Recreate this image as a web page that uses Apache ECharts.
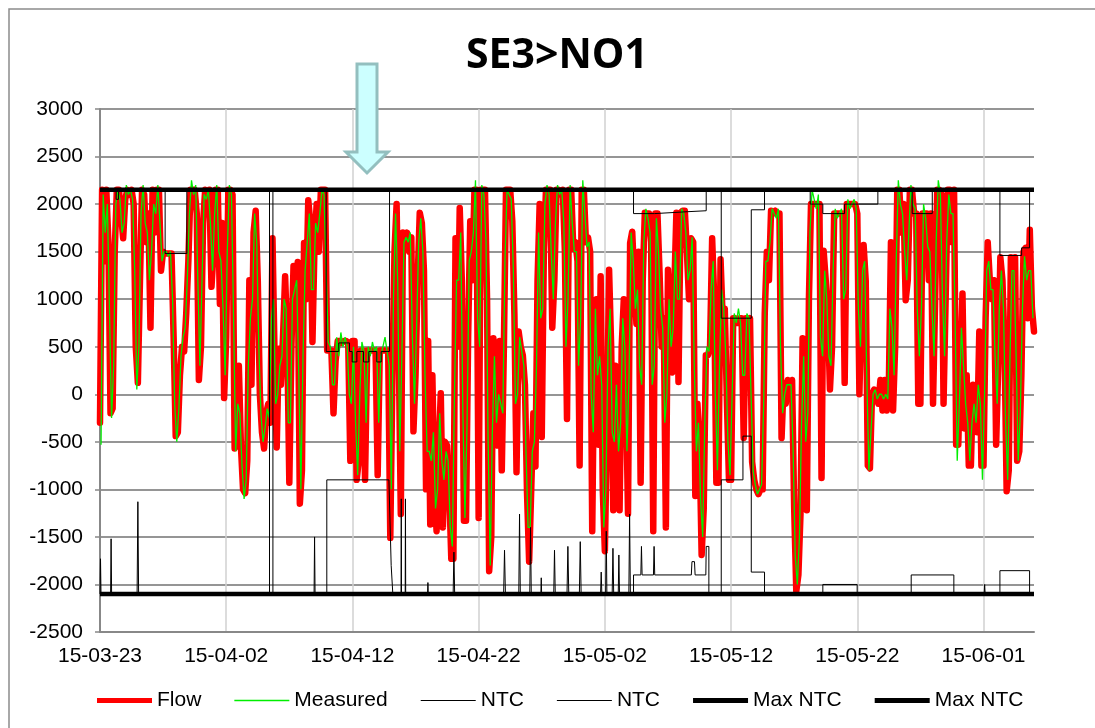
<!DOCTYPE html>
<html>
<head>
<meta charset="utf-8">
<script src="https://cdn.jsdelivr.net/npm/echarts@6/dist/echarts.min.js"></script>
<style>
  html, body { margin: 0; background: #fff; }
  #chart { width: 1095px; height: 728px; }
</style>
</head>
<body>
<div id="chart"></div>
<script>
// x axis is in days from 2015-03-23
const xTicks = ['15-03-23', '15-04-02', '15-04-12', '15-04-22', '15-05-02', '15-05-12', '15-05-22', '15-06-01']

// Flow, one value every 4 hours (6 per day), day 0 .. day 74
const flow = [
  -300, 2150, 1400, 2150, 1600, -200,
  -150, 1500, 2150, 2150, 1900, 1640,
  2050, 2150, 2100, 2150, 2000, 500,
  120, 1200, 2150, 2100, 1600, 1900,
  700, 2150, 1700, 2150, 2150, 1300,
  1500, 1480, 1480, 1480, 1480, 600,
  -440, -400, 200, 500, 450, 850,
  1400, 2150, 2150, 2150, 1900, 150,
  500, 1800, 2150, 2000, 2150, 1130,
  1500, 2150, 2150, 950, 1800, -40,
  600, 2150, 2150, 2100, -570, -500,
  300, -550, -1000, -1040, -700, 1200,
  100, 1700, 1930, 1200, 0, -400,
  -570, -200, -100, -300, 1640, 400,
  -560, 480, 100, 600, 1240, 600,
  -930, 500, 1350, 900, 1390, -1150,
  -800, 1590, 1000, 2040, 1800, 550,
  1600, 2000, 1500, 2150, 2150, 2150,
  460, 460, 460, -200, 350, 560,
  560, 540, 560, 560, 540, -700,
  560, 560, -900, -700, 460, 460,
  -900, 460, 460, 460, 460, 460,
  -850, 460, 460, 460, 460, 460,
  -1510, 200, 1500, 2000, 500, -1260,
  1700, 1550, 1700, 1500, 1650, -390,
  200, 1200, 1910, 1800, 1300, -1000,
  560, -1370, 200, -1000, -1440, -600,
  10, -1400, -500, -540, -1000, -1730,
  -1730, 1640, 500, 1960, 1200, -1330,
  -1330, 600, 1820, 1200, 2150, 2150,
  -1300, 2150, 2150, 2150, 1000, -1860,
  -1500, 590, 100, -540, 560, -800,
  500, 2150, 2150, 2150, 1820, 840,
  -820, 660, 500, 410, 100, -1040,
  -1760, -1000, -200, -760, 1200, 2000,
  -450, 1500, 2150, 2150, 2150, 700,
  1200, 2150, 2150, 2100, 2150, 1500,
  -260, 2150, 2150, 1530, 1600, 1400,
  -750, 2150, 2150, 1600, 1650, 1500,
  -1440, 660, 1000, -530, 1240, -1000,
  -1650, -360, 1310, 500, -1220, 300,
  -20, -1220, 500, 1000, 90, -1257,
  1590, 1710, 1200, 740, 1500, -930,
  1200, 1910, 1900, 1900, 1600, -1440,
  1900, 1900, 1280, 500, 800, -1400,
  1310, 800, 230, 1100, 1910, 130,
  1910, 1930, 1930, 1500, 1000, 1640,
  1600, -1070, -100, -500, -1690, -1200,
  410, 410, 500, 1640, 1000, -930,
  -930, 1420, 800, 900, -60, -900,
  -900, 800, 800, 750, 800, 800,
  -460, 800, 750, 800, -710, -900,
  -1000, -1050, -1000, -1000, 850, 1500,
  1200, 1930, 1900, 1930, 1900, 1900,
  -460, 120, -100, 150, 50, 150,
  -1200, -2070, -1900, -1260, 590, 300,
  -1220, 1000, 2000, 2000, 2000, 2000,
  2000, -880, 1510, 1200, 840, 50,
  500, 1900, 1900, 1900, 1900, 1900,
  120, 2000, 2000, 2000, 2000, 2000,
  1900, 0, 1000, 1570, 1200, -750,
  -780, 0, 50, 0, -100, 150,
  -170, 150, -170, 100, 1600, -170,
  500, 2150, 2150, 1700, 2000, 990,
  1200, 2150, 2150, 1900, 1900, -100,
  -100, 1900, 1900, 1900, 1200, 1900,
  -100, 1000, 2150, 2150, 2100, -100,
  1000, 2150, 2150, 1600, 2150, -530,
  -530, 300, 1060, -360, 200, -750,
  -750, 100, -280, -400, 660, -750,
  -750, 800, 1600, 1200, 1000, 1200,
  -530, 300, 1440, 1200, 500, -1020,
  -800, 1440, 1100, 1440, -700, -600,
  200, 1500, 1540, 800, 1730, 910,
  660
]

// Measured, one value every 4 hours, offset by 2 hours
const measured = [
  -530, 2100, 1700, 2000, 900, -250,
  300, 2000, 2150, 2050, 1700, 1800,
  2200, 2100, 2150, 2050, 1300, 50,
  500, 1900, 2200, 1800, 1700, 1200,
  1500, 2000, 1900, 2200, 1800, 1400,
  1500, 1500, 1450, 1500, 1000, -100,
  -500, -150, 400, 600, 700, 1200,
  1900, 2250, 2100, 2200, 1200, 300,
  1200, 2100, 2050, 2150, 1800, 1300,
  1900, 2200, 1500, 1400, 900, 200,
  1500, 2200, 2100, 800, -600, -100,
  -200, -750, -1100, -900, 300, 800,
  1000, 1900, 1600, 500, -200, -500,
  -350, -150, -250, 800, 1000, -100,
  0, 300, 400, 1000, 900, -300,
  -300, 1000, 1100, 1200, 200, -1000,
  400, 1300, 1600, 1900, 1100, 1100,
  1800, 1700, 1900, 2150, 2100, 1300,
  550, 500, 100, 100, 600, 400,
  650, 500, 600, 500, 0, -100,
  500, -300, -850, 0, 550, 450,
  -300, 500, 400, 550, 450, 500,
  -300, 400, 500, 600, 450, 300,
  -1000, 1000, 1900, 1200, -600, 400,
  1600, 1650, 1600, 1700, 600, -100,
  700, 1600, 1850, 1500, 200, -600,
  -600, -700, -400, -1200, -1000, -200,
  -700, -900, -600, -700, -1400, -1600,
  0, 1200, 1200, 1700, -200, -1300,
  -300, 1400, 1500, 1700, 2250, 800,
  500, 2200, 2100, 1600, -500, -1800,
  -400, 400, -300, 0, -100, -200,
  1400, 2150, 2100, 2050, 1300, -100,
  0, 600, 450, 300, -600, -1400,
  -1400, -600, -500, 300, 1700, 800,
  900, 2000, 2200, 2100, 1500, 1000,
  1800, 2200, 2100, 2150, 1800, 500,
  1000, 2200, 1800, 1500, 1500, 300,
  800, 2250, 1900, 1550, 1600, 0,
  -400, 900, 200, 400, 100, -1400,
  -1000, 500, 900, -400, -500, 100,
  -600, -300, 800, 500, -600, 200,
  1700, 1400, 900, 1100, 300, 100,
  1600, 1950, 1850, 1700, 100, 300,
  1850, 1500, 900, 700, -300, 0,
  1000, 500, 700, 1500, 1000, 1000,
  1950, 1900, 1700, 1200, 1300, 1650,
  300, -600, -300, -1100, -1500, -300,
  500, 450, 1100, 1400, 0, -800,
  300, 1100, 900, 400, -500, -850,
  0, 850, 750, 900, 750, 200,
  200, 850, 800, 0, -800, -950,
  -1050, -1000, -950, -100, 1400, 1400,
  1600, 1950, 1900, 1850, 1950, 500,
  -200, 0, 100, 100, 100, -600,
  -1700, -2000, -1500, -300, 400, -500,
  -200, 1700, 2150, 2050, 1950, 2100,
  600, 400, 1300, 1000, 400, 300,
  1300, 1950, 1850, 1900, 1950, 1000,
  1100, 2050, 1950, 2000, 2050, 1950,
  900, 500, 1300, 1400, 200, -800,
  -400, 0, 50, -50, 0, 0,
  -50, 0, -50, 900, 700, 200,
  1400, 2250, 2000, 1900, 1500, 1200,
  1700, 2200, 2000, 1950, 900, 400,
  900, 2000, 1850, 1550, 1500, 900,
  400, 1600, 2250, 2100, 1000, 400,
  1600, 2100, 1900, 1900, 800, -700,
  -100, 700, 300, -100, -300, -700,
  -300, -100, -300, 100, -100, -900,
  0, 1300, 1400, 1100, 1100, 400,
  -100, 900, 1300, 900, -300, -900,
  300, 1300, 1300, 400, -700, -200,
  900, 1450, 1200, 1300, 1300, 800
]

// NTC lines as [day, MW] break points
const ntcUpper = [
  [0, 2150], [1.28, 2150], [1.28, 2050], [1.47, 2050], [1.47, 2150],
  [5.16, 2150], [5.16, 1480], [6.88, 1480], [6.88, 2150],
  [13.43, 2150], [13.43, -2100], [13.7, -2100], [13.7, 2150],
  [17.92, 2150], [17.92, 450], [18.92, 450], [18.92, 540], [19.77, 540], [19.77, 450],
  [19.98, 450], [19.98, 340], [20.35, 340], [20.35, 450], [20.88, 450], [20.88, 340],
  [21.3, 340], [21.3, 450], [21.93, 450], [21.93, 340], [22.28, 340], [22.28, 450],
  [22.94, 450], [22.94, 2150],
  [42.27, 2150], [42.27, 1900], [43.93, 1900], [43.93, 1920], [46.57, 1920], [46.57, 1930],
  [48.03, 1930], [48.03, 2150],
  [49.22, 2150], [49.22, 800], [51.6, 800], [51.6, 1940], [52.65, 1940], [52.65, 2150],
  [56.27, 2150], [56.27, 2000], [57.27, 2000], [57.27, 1900], [58.99, 1900], [58.99, 2000],
  [61.63, 2000], [61.63, 2150],
  [64.35, 2150], [64.35, 1900], [65.94, 1900], [65.94, 2150],
  [71.3, 2150], [71.3, 1460], [73.02, 1460], [73.02, 1540], [73.65, 1540], [73.65, 2150], [74, 2150]
]
const ntcLower = [
  [0, -2100], [0.04, -1730], [0.08, -2100],
  [0.84, -2100], [0.88, -1520], [0.92, -2100],
  [2.94, -2100], [3.0, -1130], [3.06, -2100],
  [16.96, -2100], [17.0, -1500], [17.04, -2100],
  [17.97, -2100], [17.97, -900], [22.89, -900], [23.07, -1800], [23.2, -2100],
  [23.85, -2100], [23.87, -1100], [23.89, -2100], [24.18, -2100], [24.2, -1100], [24.22, -2100],
  [25.95, -2100], [25.98, -1980], [26.01, -2100],
  [27.98, -2100], [28.04, -1660], [28.1, -2100],
  [31.98, -2100], [32.05, -1640], [32.12, -2100],
  [33.18, -2100], [33.24, -1260], [33.3, -2100],
  [34.05, -2100], [34.11, -1400], [34.17, -2100],
  [34.93, -2100], [34.96, -1930], [34.99, -2100],
  [35.95, -2100], [36.01, -1640], [36.07, -2100],
  [37.0, -2100], [37.07, -1600], [37.14, -2100],
  [37.98, -2100], [38.05, -1550], [38.12, -2100],
  [39.66, -2100], [39.71, -1870], [39.76, -2100],
  [40.06, -2100], [40.11, -1440], [40.16, -2100],
  [40.58, -2100], [40.64, -1620], [40.7, -2100],
  [41.06, -2100], [41.11, -1690], [41.16, -2100],
  [41.9, -2100], [41.96, -1260], [42.02, -2100],
  [42.27, -2100], [42.27, -1900], [42.85, -1900], [42.9, -1600], [42.95, -1900],
  [43.85, -1900], [43.9, -1600], [43.95, -1900], [46.85, -1900], [46.9, -1760], [47.1, -1760],
  [47.15, -1900], [48.0, -1900], [48.03, -1600], [48.24, -1600], [48.24, -2100],
  [49.22, -2100], [49.22, -900], [50.94, -900], [50.94, -440], [51.6, -440], [51.6, -1870],
  [52.65, -1870], [52.65, -2100],
  [57.27, -2100], [57.27, -2000], [59.99, -2000], [59.99, -2100],
  [64.27, -2100], [64.27, -1900], [67.65, -1900], [67.65, -2100],
  [70.05, -2100], [70.09, -2000], [70.13, -2100],
  [71.3, -2100], [71.3, -1855], [73.65, -1855], [73.65, -2100], [74, -2100]
]
const maxNtcUpper = [[0, 2150], [74, 2150]]
const maxNtcLower = [[0, -2100], [74, -2100]]

const font = 'Liberation Sans, Arial, sans-serif'

// legend line swatch of a given thickness inside a 55x14 box
function swatch (h) {
  const y0 = 7 - h / 2
  return 'path://M0,0M55,14M0,' + y0 + 'H55V' + (y0 + h) + 'H0Z'
}

const chart = echarts.init(document.getElementById('chart'))
chart.setOption({
  animation: false,
  backgroundColor: '#fff',
  title: {
    text: 'SE3>NO1',
    left: 461,
    top: 31,
    textStyle: { fontFamily: 'Open Sans', fontWeight: 'bold', fontSize: 41, color: '#000' }
  },
  legend: {
    left: 97,
    top: 690,
    padding: 0,
    itemWidth: 55,
    itemHeight: 14,
    itemGap: 33,
    textStyle: { fontFamily: font, fontSize: 21, color: '#000' },
    formatter: name => name.replace('#2', ''),
    data: [
      { name: 'Flow', icon: swatch(5) },
      { name: 'Measured', icon: swatch(1.5) },
      { name: 'NTC', icon: swatch(1) },
      { name: 'NTC#2', icon: swatch(1) },
      { name: 'Max NTC', icon: swatch(5) },
      { name: 'Max NTC#2', icon: swatch(5) }
    ]
  },
  grid: { left: 100, right: 61, top: 109, bottom: 96 },
  xAxis: {
    type: 'value',
    min: 0,
    max: 74,
    interval: 10,
    axisLine: { onZero: false, lineStyle: { color: '#888', width: 2 } },
    axisTick: { show: false },
    axisLabel: {
      margin: 14,
      fontFamily: font,
      fontSize: 21,
      color: '#000',
      formatter: v => xTicks[v / 10] || ''
    },
    splitLine: { show: true, showMaxLine: false, lineStyle: { color: '#d0d0d0', width: 1.5 } }
  },
  yAxis: {
    type: 'value',
    min: -2500,
    max: 3000,
    interval: 500,
    axisLine: { show: true, lineStyle: { color: '#888', width: 2 } },
    axisTick: { show: true, length: 5, lineStyle: { color: '#888', width: 1.5 } },
    axisLabel: { margin: 17, fontFamily: font, fontSize: 21, color: '#000', formatter: v => String(v) },
    splitLine: { lineStyle: { color: '#959595', width: 2 } }
  },
  series: [
    {
      name: 'Flow',
      type: 'line',
      symbol: 'none',
      data: flow.map((v, i) => [i / 6, v]),
      lineStyle: { color: '#ff0000', width: 6.5, join: 'round', cap: 'round' },
      itemStyle: { color: '#ff0000' }
    },
    {
      name: 'Measured',
      type: 'line',
      symbol: 'none',
      data: measured.map((v, i) => [(i + 0.5) / 6, v]),
      lineStyle: { color: '#00ee00', width: 1.3 },
      itemStyle: { color: '#00ee00' }
    },
    {
      name: 'NTC',
      type: 'line',
      symbol: 'none',
      data: ntcUpper,
      lineStyle: { color: '#000', width: 1 },
      itemStyle: { color: '#000' }
    },
    {
      name: 'NTC#2',
      type: 'line',
      symbol: 'none',
      data: ntcLower,
      lineStyle: { color: '#000', width: 1 },
      itemStyle: { color: '#000' }
    },
    {
      name: 'Max NTC',
      type: 'line',
      symbol: 'none',
      data: maxNtcUpper,
      lineStyle: { color: '#000', width: 4.5 },
      itemStyle: { color: '#000' }
    },
    {
      name: 'Max NTC#2',
      type: 'line',
      symbol: 'none',
      data: maxNtcLower,
      lineStyle: { color: '#000', width: 4.5 },
      itemStyle: { color: '#000' }
    }
  ],
  graphic: [
    // chart frame (only left and top edges are inside the picture)
    {
      type: 'rect',
      shape: { x: 9, y: 9, width: 2000, height: 2000 },
      style: { fill: 'none', stroke: '#8c8c8c', lineWidth: 1.5 },
      silent: true
    },
    // arrow marker
    {
      type: 'polygon',
      shape: { points: [[357, 64], [377, 64], [377, 152], [388, 152], [367, 173], [346, 152], [357, 152]] },
      style: { fill: '#ccffff', stroke: '#93bfbf', lineWidth: 3 },
      z: 100
    }
  ]
})
</script>
</body>
</html>
